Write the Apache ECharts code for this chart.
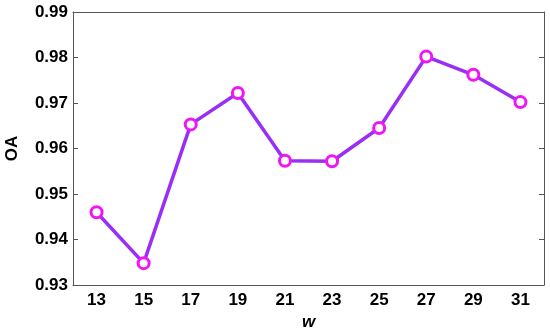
<!DOCTYPE html>
<html>
<head>
<meta charset="utf-8">
<script src="https://cdn.jsdelivr.net/npm/echarts@6/dist/echarts.min.js"></script>
<style>
html,body{margin:0;padding:0;background:#fff;}
#chart{width:550px;height:331px;}
</style>
</head>
<body>
<div id="chart"></div>
<script>
// window sizes w and the OA obtained for each
const wValues = ['13', '15', '17', '19', '21', '23', '25', '27', '29', '31'];
const oaValues = [0.946, 0.9348, 0.9653, 0.9722, 0.9573, 0.9572, 0.9645, 0.9802, 0.9762, 0.9702];

const axisColor = '#555';
const labelFont = {color: '#000', fontSize: 17, fontWeight: 'bold', fontFamily: 'Liberation Sans, Arial, sans-serif'};

let chart = echarts.init(document.getElementById('chart'));
let option = {
  animation: false,
  grid: {left: 73, right: 6, top: 12, bottom: 46, outerBoundsMode: 'none', containLabel: false},
  xAxis: [
    {
      type: 'category',
      data: wValues,
      boundaryGap: true,
      name: 'w',
      nameLocation: 'middle',
      nameGap: 29,
      nameTextStyle: {color: '#000', fontSize: 17, fontWeight: 'bold', fontStyle: 'italic', fontFamily: 'Liberation Sans, Arial, sans-serif'},
      axisLine: {lineStyle: {color: axisColor, width: 1}},
      axisTick: {alignWithLabel: true, inside: true, length: 5, lineStyle: {color: axisColor}},
      axisLabel: Object.assign({margin: 7}, labelFont),
      splitLine: {show: false}
    },
    {
      type: 'category',
      data: wValues,
      position: 'top',
      boundaryGap: true,
      axisLine: {lineStyle: {color: axisColor, width: 1}},
      axisTick: {alignWithLabel: true, inside: true, length: 5, lineStyle: {color: axisColor}},
      axisLabel: {show: false},
      splitLine: {show: false}
    }
  ],
  yAxis: [
    {
      type: 'value',
      min: 0.93,
      max: 0.99,
      interval: 0.01,
      name: 'OA',
      nameLocation: 'middle',
      nameGap: 52,
      nameRotate: 90,
      nameTextStyle: {color: '#000', fontSize: 17, fontWeight: 'bold', fontFamily: 'Liberation Sans, Arial, sans-serif'},
      axisLine: {show: true, lineStyle: {color: axisColor, width: 1}},
      axisTick: {show: true, inside: true, length: 5, lineStyle: {color: axisColor}},
      axisLabel: Object.assign({margin: 5, formatter: v => v.toFixed(2)}, labelFont),
      splitLine: {show: false}
    },
    {
      type: 'value',
      min: 0.93,
      max: 0.99,
      interval: 0.01,
      position: 'right',
      axisLine: {show: true, lineStyle: {color: axisColor, width: 1}},
      axisTick: {show: true, inside: true, length: 5, lineStyle: {color: axisColor}},
      axisLabel: {show: false},
      splitLine: {show: false}
    }
  ],
  series: [
    {
      type: 'line',
      data: oaValues,
      symbol: 'circle',
      symbolSize: 11,
      lineStyle: {color: '#9a2ef5', width: 3.5},
      itemStyle: {color: '#fff', borderColor: '#f015f5', borderWidth: 3}
    }
  ]
};
chart.setOption(option);
</script>
</body>
</html>
